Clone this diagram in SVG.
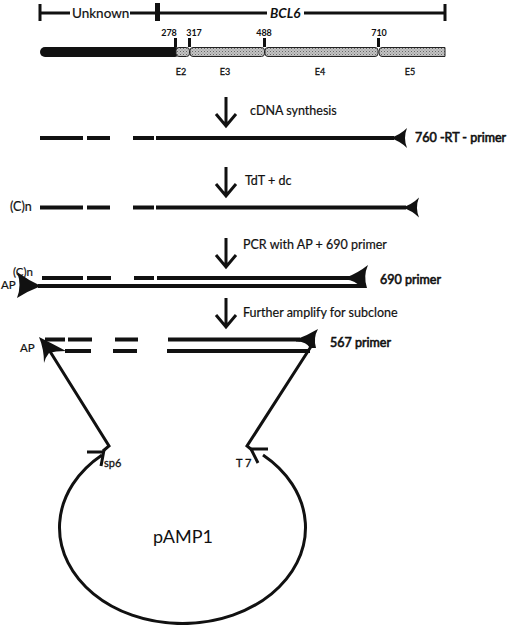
<svg xmlns="http://www.w3.org/2000/svg" width="520" height="625" viewBox="0 0 520 625">
<defs>
<style>
text{font-family:Lato,"Open Sans","Liberation Sans",sans-serif;fill:#111}
.lbl{font-size:12.5px;stroke:#111;stroke-width:0.2}
.pr{font-size:12.5px;stroke:#111;stroke-width:0.6}
.num{font-size:9px;font-weight:bold;text-anchor:middle}
.ex{font-size:9px;text-anchor:middle;stroke:#111;stroke-width:0.3}
.ln{stroke:#111;stroke-width:4;fill:none}
.thin{stroke:#111;stroke-width:3;fill:none}
.head{fill:#111}
.exon{fill:url(#hatch);stroke:#222;stroke-width:1}
</style>
<pattern id="hatch" width="3" height="3" patternUnits="userSpaceOnUse">
<rect width="3" height="3" fill="#c4c4c4"/>
<rect width="1" height="1" fill="#666"/>
<rect x="1.5" y="1.5" width="1" height="1" fill="#888"/>
</pattern>
<path id="larrow" d="M0 0 Q10 -3 17 -10 Q13 0 17 10 Q10 3 0 0 Z"/>
<path id="down" d="M0 0 V29 M-10 17 L0 29 L10 17"/>
</defs>

<g id="scale">
<path class="thin" d="M40 13 H70 M130 13 H267 M304 13 H445"/>
<rect x="38.5" y="4" width="3" height="17" class="head"/>
<rect x="155" y="3" width="5" height="18" class="head"/>
<rect x="443.5" y="4" width="3" height="17" class="head"/>
<text x="72" y="18" style="font-size:13.5px;stroke:#111;stroke-width:0.2">Unknown</text>
<text x="270" y="18" style="font-size:13.5px;font-weight:bold;font-style:italic">BCL6</text>
</g>

<g id="gene">
<rect x="40" y="47" width="140" height="10" rx="5" class="head"/>
<rect x="176" y="47.5" width="13.5" height="9" rx="3" class="exon"/>
<rect x="190" y="47.5" width="74.5" height="9" rx="3" class="exon"/>
<rect x="265" y="47.5" width="113" height="9" rx="3" class="exon"/>
<path d="M382 47.5 H445 V56.5 H382 Q379 56.5 379 53 V51 Q379 47.5 382 47.5 Z" class="exon"/>
<rect x="174" y="38" width="3" height="9" class="head"/>
<rect x="188" y="38" width="3" height="9" class="head"/>
<rect x="263" y="38" width="3" height="9" class="head"/>
<rect x="377" y="38" width="3" height="9" class="head"/>
<text x="169" y="36" class="num">278</text>
<text x="194" y="36" class="num">317</text>
<text x="264" y="36" class="num">488</text>
<text x="379" y="36" class="num">710</text>
<text x="181" y="75" class="ex">E2</text>
<text x="225" y="75" class="ex">E3</text>
<text x="320" y="75" class="ex">E4</text>
<text x="410" y="75" class="ex">E5</text>
</g>

<g id="step1">
<use href="#down" x="226" y="97" class="thin"/>
<text x="250" y="115" class="lbl">cDNA synthesis</text>
</g>

<g id="cdna">
<path class="ln" d="M40 138 H83 M87 138 H110 M133 138 H154 M156 138 H394"/>
<use href="#larrow" x="390" y="138" class="head"/>
<text x="415" y="142" class="pr">760 -RT - primer</text>
</g>

<g id="step2">
<use href="#down" x="226" y="167" class="thin"/>
<text x="245" y="185" class="lbl">TdT + dc</text>
</g>

<g id="tailed">
<text x="10" y="211" class="lbl">(C)n</text>
<path class="ln" d="M40 207.5 H83 M87 207.5 H110 M133 207.5 H154 M156 207.5 H406"/>
<use href="#larrow" x="402" y="207.5" class="head"/>
</g>

<g id="step3">
<use href="#down" x="226" y="238" class="thin"/>
<text x="243" y="249" class="lbl">PCR with AP + 690 primer</text>
</g>

<g id="pcr">
<text x="13" y="276" class="lbl" style="font-size:11.5px">(C)n</text>
<text x="1" y="289" class="lbl" style="font-size:11.5px">AP</text>
<path class="ln" d="M42 278 H83 M87 278 H111 M134 278 H154 M157 278 H350"/>
<path class="ln" d="M38 286 H365"/>
<path class="head" d="M345 278 Q358 273 368 265 Q363 276 367 288 L361 288 Q356 280 345 279.5 Z"/>
<path class="head" d="M41 286 Q28 280 17 272 Q22 285 17 298 Q28 291 41 286 Z"/>
<text x="380" y="284" class="pr">690 primer</text>
</g>

<g id="step4">
<use href="#down" x="226" y="298" class="thin"/>
<text x="243" y="317" class="lbl">Further amplify for subclone</text>
</g>

<g id="subclone">
<text x="20" y="352" class="lbl" style="font-size:11.5px">AP</text>
<path class="ln" d="M45 339.5 H65 M68 339.5 H92 M115 339.5 H138 M168 339.5 H300"/>
<path class="ln" d="M65 351 H91 M113 351 H137 M167 351 H310"/>
<path class="head" d="M296 339.5 Q308 335 318 329 Q313 338 316 348 L310 348 Q306 341 296 341.5 Z"/>
<path class="head" d="M39 337 Q53 344 66 351 Q55 351 49 353 Q45 358 44 363 Q44 349 39 337 Z"/>
<text x="330" y="347" class="pr">567 primer</text>
</g>

<g id="plasmid">
<path class="thin" d="M102 455 A123 96 0 1 0 263 455"/>
<path class="thin" d="M87 452 H104 M104 450 L101 466"/>
<path class="thin" d="M268 449 H251 M251 449 L258 463"/>
<text x="104" y="467" style="font-size:11px;stroke:#111;stroke-width:0.3">sp6</text>
<text x="236" y="467" style="font-size:11px;stroke:#111;stroke-width:0.3">T 7</text>
<text x="153" y="543" style="font-size:18px">pAMP1</text>
</g>

<g id="connectors">
<polyline class="thin" points="46,345 109,446 103,451"/>
<polyline class="thin" points="312,345 247,446 252,450"/>
</g>
</svg>
